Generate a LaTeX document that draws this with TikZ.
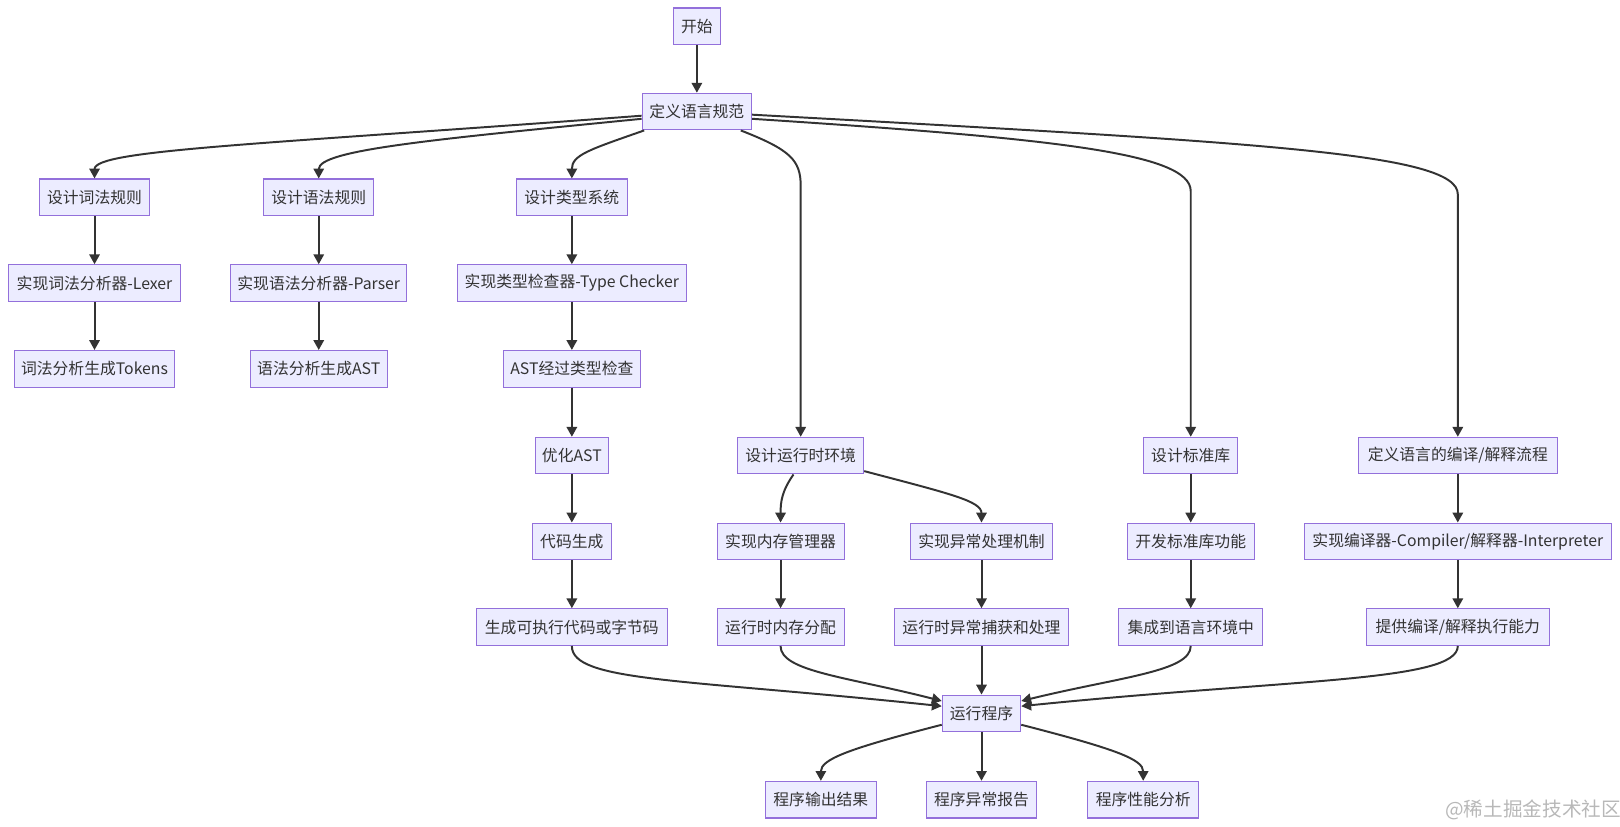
\documentclass[tikz,border=0pt]{standalone}
\usepackage{fontspec}
\setmainfont{Noto Sans CJK SC}
\newfontfamily\cjk{Noto Sans CJK SC}
\usetikzlibrary{arrows.meta,calc}
\definecolor{nodefill}{HTML}{ECECFF}
\definecolor{nodeline}{HTML}{9370DB}
\definecolor{edgec}{HTML}{333333}
\definecolor{wmark}{HTML}{B8B8B8}
\begin{document}
\begin{tikzpicture}[x=1pt,y=-1pt,
  box/.style={draw=nodeline,fill=nodefill,line width=1pt,minimum height=35.5pt,
    inner xsep=6pt,inner ysep=2pt,text=edgec,font=\cjk\fontsize{15.3pt}{18pt}\selectfont},
  edge/.style={draw=edgec,line width=1.9pt,-{Triangle[length=9.5pt,width=10pt]}}]
\useasboundingbox (0,0) rectangle (1568,799.6);
% nodes
\node[box,minimum width=45pt] (start) at (674.5,25.5) {开始};
\node[box,minimum width=106pt] (def) at (674.5,108) {定义语言规范};
\node[box,minimum width=107pt] (lexr) at (91.5,191) {设计词法规则};
\node[box,minimum width=106pt] (synr) at (308.5,191) {设计语法规则};
\node[box,minimum width=107pt] (typs) at (553.5,191) {设计类型系统};
\node[box,minimum width=167pt] (lexer) at (91.5,274) {实现词法分析器-Lexer};
\node[box,minimum width=170pt] (parser) at (308.5,274) {实现语法分析器-Parser};
\node[box,minimum width=221pt] (tchk) at (553.5,274) {实现类型检查器-Type Checker};
\node[box,minimum width=154pt] (tokens) at (91.5,357) {词法分析生成Tokens};
\node[box,minimum width=133pt] (ast) at (308.5,357) {语法分析生成AST};
\node[box,minimum width=133pt] (astc) at (553.5,357) {AST经过类型检查};
\node[box,minimum width=71pt] (opt) at (553.5,441) {优化AST};
\node[box,minimum width=122pt] (env) at (775,441) {设计运行时环境};
\node[box,minimum width=91pt] (std) at (1152.5,441) {设计标准库};
\node[box,minimum width=193pt] (flow) at (1411,441) {定义语言的编译/解释流程};
\node[box,minimum width=77pt] (cg) at (553.5,524) {代码生成};
\node[box,minimum width=123pt] (mem) at (755.5,524) {实现内存管理器};
\node[box,minimum width=138pt] (exc) at (950,524) {实现异常处理机制};
\node[box,minimum width=123pt] (stdf) at (1152.5,524) {开发标准库功能};
\node[box,minimum width=297pt] (comp) at (1411,524) {实现编译器-Compiler/解释器-Interpreter};
\node[box,minimum width=185pt] (exe) at (553.5,607) {生成可执行代码或字节码};
\node[box,minimum width=123pt] (mema) at (755.5,607) {运行时内存分配};
\node[box,minimum width=168pt] (exch) at (950,607) {运行时异常捕获和处理};
\node[box,minimum width=139pt] (integ) at (1152.5,607) {集成到语言环境中};
\node[box,minimum width=177pt] (prov) at (1411,607) {提供编译/解释执行能力};
\node[box,minimum width=76pt] (run) at (950,690.5) {运行程序};
\node[box,minimum width=107pt] (out) at (794.5,774) {程序输出结果};
\node[box,minimum width=107pt] (rep) at (950,774) {程序异常报告};
\node[box,minimum width=107pt] (perf) at (1106.5,774) {程序性能分析};
\node[text=wmark,font=\cjk\fontsize{19pt}{22pt}\selectfont,inner sep=0pt] (wm) at (1484,783.6) {@稀土掘金技术社区};
% edges
\draw[edge] (start) -- (def);
\draw[edge] ($(def.west)+(0,4)$) .. controls (250,140) and (91.5,145) .. (lexr.north);
\draw[edge] ($(def.west)+(0,7)$) .. controls (420,135) and (308.5,145) .. (synr.north);
\draw[edge] ($(def.south west)+(2.5,0)$) .. controls (570,145) and (553.5,150) .. (typs.north);
\draw[edge] ($(def.south east)+(-11,0)$) .. controls (765,145) and (775,155) .. (775,180) -- (env.north);
\draw[edge] ($(def.east)+(0,7)$) .. controls (1020,134) and (1152.5,148) .. (1152.5,185) -- (std.north);
\draw[edge] ($(def.east)+(0,3)$) .. controls (1220,138) and (1411,148) .. (1411,188) -- (flow.north);
\draw[edge] (lexr) -- (lexer);
\draw[edge] (lexer) -- (tokens);
\draw[edge] (synr) -- (parser);
\draw[edge] (parser) -- (ast);
\draw[edge] (typs) -- (tchk);
\draw[edge] (tchk) -- (astc);
\draw[edge] (astc) -- (opt);
\draw[edge] (opt) -- (cg);
\draw[edge] (cg) -- (exe);
\draw[edge] ($(env.south)+(-7,0)$) .. controls (757,475) and (755.5,485) .. (mem.north);
\draw[edge] ($(env.east)+(0,15)$) .. controls (920,478) and (950,485) .. (exc.north);
\draw[edge] (mem) -- (mema);
\draw[edge] (exc) -- (exch);
\draw[edge] (std) -- (stdf);
\draw[edge] (stdf) -- (integ);
\draw[edge] (flow) -- (comp);
\draw[edge] (comp) -- (prov);
\draw[edge] (exe.south) .. controls (553.5,660) and (660,657) .. ($(run.west)+(0,-7)$);
\draw[edge] (mema.south) .. controls (755.5,650) and (820,655) .. ($(run.west)+(0,-12)$);
\draw[edge] (exch) -- (run);
\draw[edge] (integ.south) .. controls (1152.5,650) and (1085,655) .. ($(run.east)+(0,-12)$);
\draw[edge] (prov.south) .. controls (1411,660) and (1250,657) .. ($(run.east)+(0,-7)$);
\draw[edge] ($(run.west)+(0,11)$) .. controls (820,725) and (794.5,735) .. (out.north);
\draw[edge] (run) -- (rep);
\draw[edge] ($(run.east)+(0,11)$) .. controls (1080,725) and (1106.5,735) .. (perf.north);
\end{tikzpicture}
\end{document}
